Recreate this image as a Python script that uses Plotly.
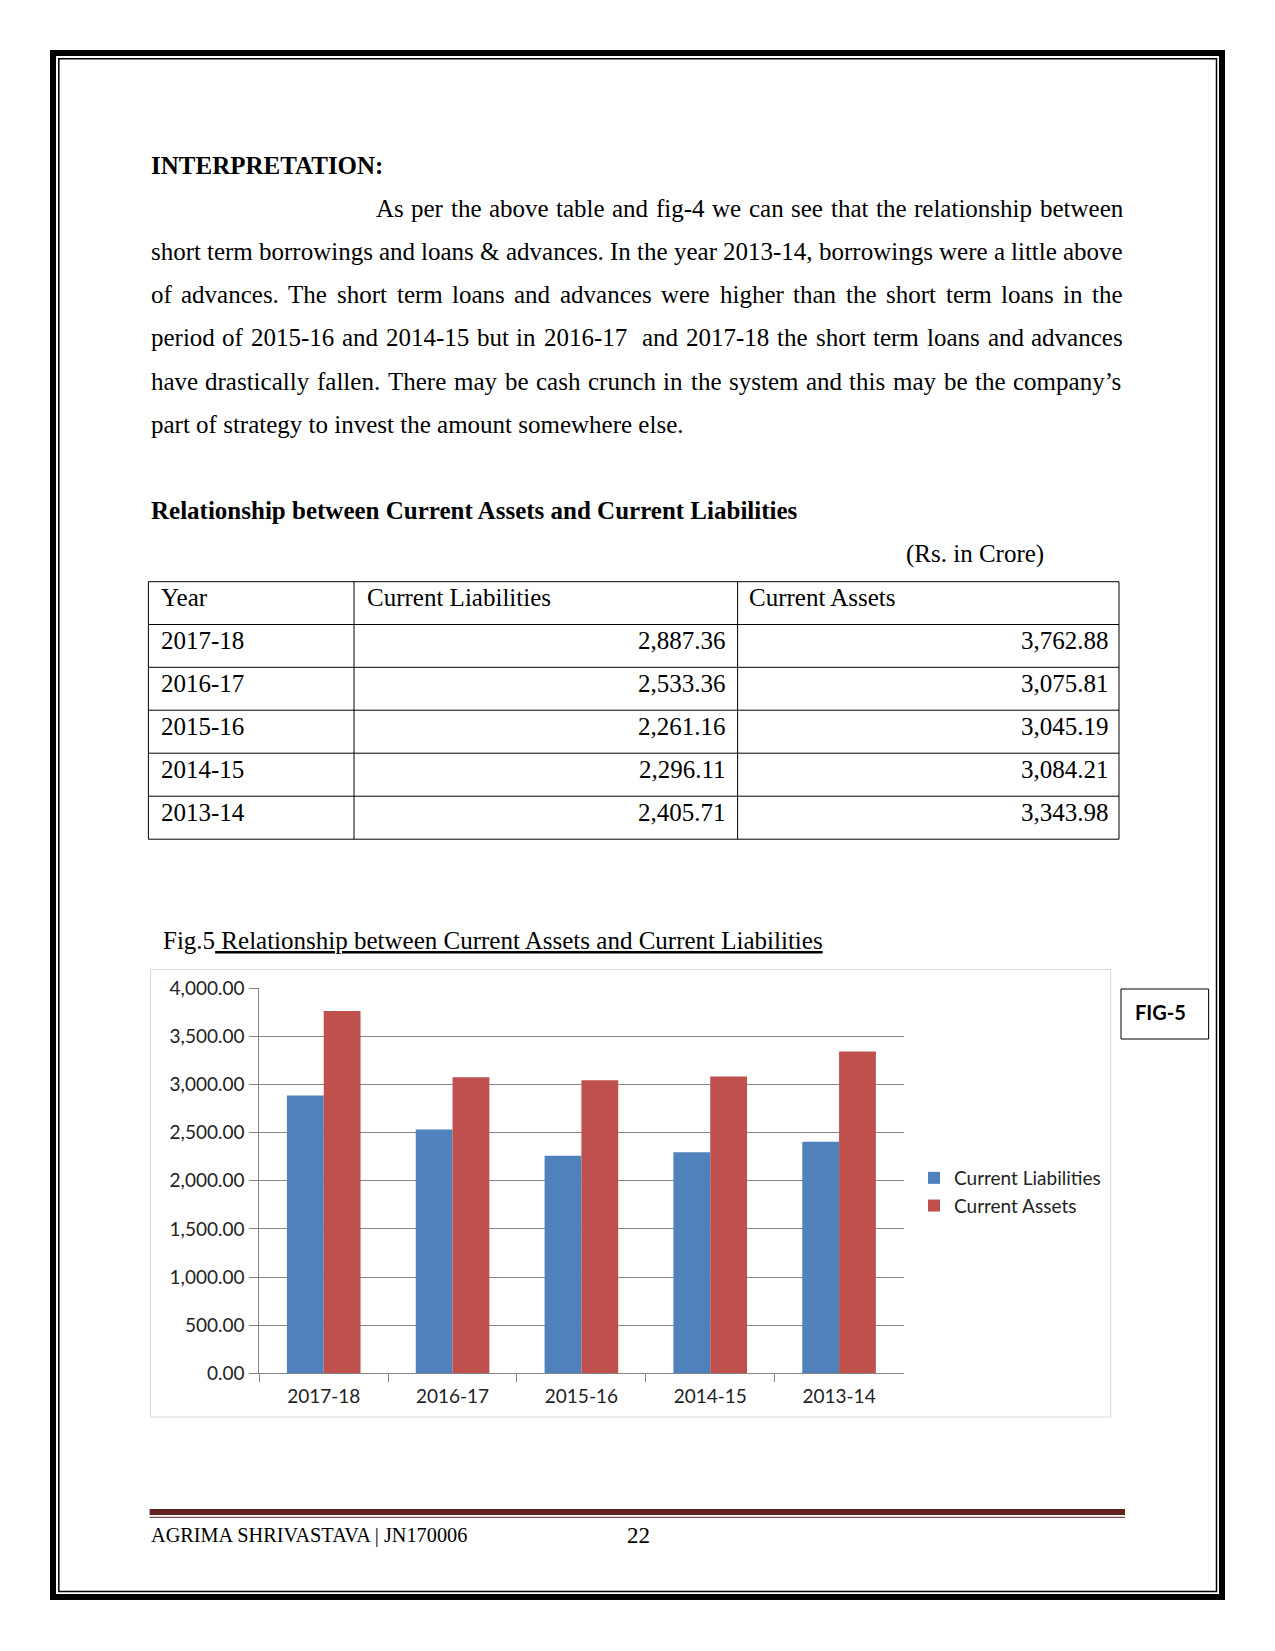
import plotly.graph_objects as go

W, H = 1275, 1651
SERIF = "Liberation Serif"
SANS = "Lato"

# chart / table data
years = ["2017-18", "2016-17", "2015-16", "2014-15", "2013-14"]
current_liabilities = [2887.36, 2533.36, 2261.16, 2296.11, 2405.71]
current_assets = [3762.88, 3075.81, 3045.19, 3084.21, 3343.98]
y_ticks = [0, 500, 1000, 1500, 2000, 2500, 3000, 3500, 4000]
table_header = ["Year", "Current Liabilities", "Current Assets"]

para_lines = [
    "As per the above table and fig-4 we can see that the relationship between",
    "short term borrowings and loans & advances. In the year 2013-14, borrowings were a little above",
    "of advances. The short term loans and advances were higher than the short term loans in the",
    "period of 2015-16 and 2014-15 but in 2016-17  and 2017-18 the short term loans and advances",
    "have drastically fallen. There may be cash crunch in the system and this may be the company’s",
    "part of strategy to invest the amount somewhere else.",
]

# Times / Liberation Serif advance widths (1/1000 em), used to justify lines
TIMES = dict(zip("abcdefghijklmnopqrstuvwxyz",
                 [444, 500, 444, 500, 444, 333, 500, 500, 278, 278, 500, 278, 778,
                  500, 500, 500, 500, 333, 389, 278, 500, 500, 722, 500, 500, 444]))
TIMES.update(zip("ABCDEFGHIJKLMNOPQRSTUVWXYZ",
                 [722, 667, 667, 722, 611, 556, 722, 722, 333, 389, 722, 611, 889,
                  722, 722, 556, 722, 667, 556, 611, 722, 722, 944, 722, 722, 611]))
TIMES.update({c: 500 for c in "0123456789"})
TIMES.update({" ": 250, ",": 250, ".": 250, "-": 333, "&": 778, "’": 333, ":": 278})


def fx(x):
    return x / W


def fy(y):
    return 1 - y / H


annotations = []
shapes = []


def text(x, y, s, size=25, family=SERIF, anchor="left", color="black"):
    annotations.append(dict(
        x=fx(x), y=fy(y), xref="paper", yref="paper", text=s.replace("&", "&amp;"),
        showarrow=False, xanchor=anchor, yanchor="middle", borderpad=0, borderwidth=0,
        font=dict(family=family, size=size, color=color),
    ))


def line(x0, y0, x1, y1, color="black", width=1):
    shapes.append(dict(type="line", xref="paper", yref="paper",
                       x0=fx(x0), y0=fy(y0), x1=fx(x1), y1=fy(y1),
                       line=dict(color=color, width=width)))


def rect(x0, y0, x1, y1, color="black", width=1):
    shapes.append(dict(type="rect", xref="paper", yref="paper",
                       x0=fx(x0), y0=fy(y0), x1=fx(x1), y1=fy(y1),
                       line=dict(color=color, width=width), fillcolor="rgba(0,0,0,0)"))


def tw(s, size):
    return sum(TIMES.get(c, 500) for c in s) * size / 1000


def justify(s, x0, x1, y, size=25):
    words = s.split(" ")
    total = sum(tw(w, size) for w in words)
    gap = (x1 - x0 - total) / (len(words) - 1)
    x = x0
    for w in words:
        if w:
            text(x, y, w, size)
        x += tw(w, size) + gap


# page border
rect(53, 53, 1222, 1597, width=6)
rect(58.8, 58.8, 1216.5, 1591.5, width=1.5)

# interpretation text
text(150.5, 165, "<b>INTERPRETATION:</b>")
line_y = [208.5, 251.6, 294.8, 338.0, 381.1, 424.3]
for i, s in enumerate(para_lines):
    x0 = 376 if i == 0 else 150.5
    if i < len(para_lines) - 1:
        justify(s, x0, 1123, line_y[i])
    else:
        text(x0, line_y[i], s)

text(150.5, 510.5, "<b>Relationship between Current Assets and Current Liabilities</b>")
text(1044, 554, "(Rs. in Crore)", anchor="right")

# table
row_y = [581.7, 624.5, 667.3, 710.2, 753.2, 796.2, 839.2]
col_x = [148.4, 354, 737.6, 1119]
for y in row_y:
    line(col_x[0], y, col_x[-1], y)
for x in col_x:
    line(x, row_y[0], x, row_y[-1])
text(161, 597, table_header[0])
text(366.5, 597, table_header[1])
text(749, 597, table_header[2])
for i, yr in enumerate(years):
    ty = row_y[i + 1] + 15.8
    text(161, ty, yr)
    text(726, ty, f"{current_liabilities[i]:,.2f}", anchor="right")
    text(1108.5, ty, f"{current_assets[i]:,.2f}", anchor="right")

# figure caption
text(163, 940, "Fig.5<u> Relationship between Current Assets and Current Liabilities</u>")

# chart frame and FIG-5 box
rect(150.5, 969.5, 1110.7, 1417, color="#D9D9D9", width=1)
rect(1121, 989, 1208.6, 1039, width=1)
text(1160, 1012, "<b>FIG-5</b>", size=20, family=SANS, anchor="center")

# footer
line(149.6, 1512, 1125, 1512, color="#622423", width=6)
line(149.6, 1517.3, 1125, 1517.3, color="#622423", width=1)
text(150.5, 1535, "AGRIMA SHRIVASTAVA | JN170006", size=20.3)
text(638, 1535, "22", size=23, anchor="center")

fig = go.Figure()
fig.add_trace(go.Bar(name="Current Liabilities", x=years, y=current_liabilities,
                     marker=dict(color="#4F81BD", line=dict(width=0))))
fig.add_trace(go.Bar(name="Current Assets", x=years, y=current_assets,
                     marker=dict(color="#C0504D", line=dict(width=0))))

axis_grey = "#868686"
fig.update_layout(
    width=W, height=H,
    margin=dict(l=0, r=0, t=0, b=0, pad=0, autoexpand=False),
    paper_bgcolor="white", plot_bgcolor="white",
    barmode="group", bargap=1.5 / 3.5, bargroupgap=0,
    showlegend=True,
    legend=dict(x=fx(914), y=fy(1192), xanchor="left", yanchor="middle",
                font=dict(family=SANS, size=19, color="#222222"),
                bgcolor="rgba(0,0,0,0)", borderwidth=0, tracegroupgap=0),
    xaxis=dict(domain=[fx(259.3), fx(903.5)], showline=True, linecolor=axis_grey,
               linewidth=1, ticks="outside", ticklen=8, tickcolor=axis_grey,
               tickson="boundaries", showgrid=False, zeroline=False,
               ticklabelstandoff=6, automargin=False,
               tickfont=dict(family=SANS, size=19, color="#222222")),
    yaxis=dict(domain=[fy(1373.3), fy(988.3)], range=[0, 4000], tickvals=y_ticks,
               tickformat=",.2f", showline=True, linecolor=axis_grey, linewidth=1,
               ticks="outside", ticklen=9, tickcolor=axis_grey,
               showgrid=True, gridcolor=axis_grey, gridwidth=1, zeroline=False,
               ticklabelstandoff=1, automargin=False,
               tickfont=dict(family=SANS, size=19, color="#222222")),
    annotations=annotations,
    shapes=shapes,
)

fig.write_html("out.html", config={"displayModeBar": False},
               post_script="document.body.style.margin = '0';")
